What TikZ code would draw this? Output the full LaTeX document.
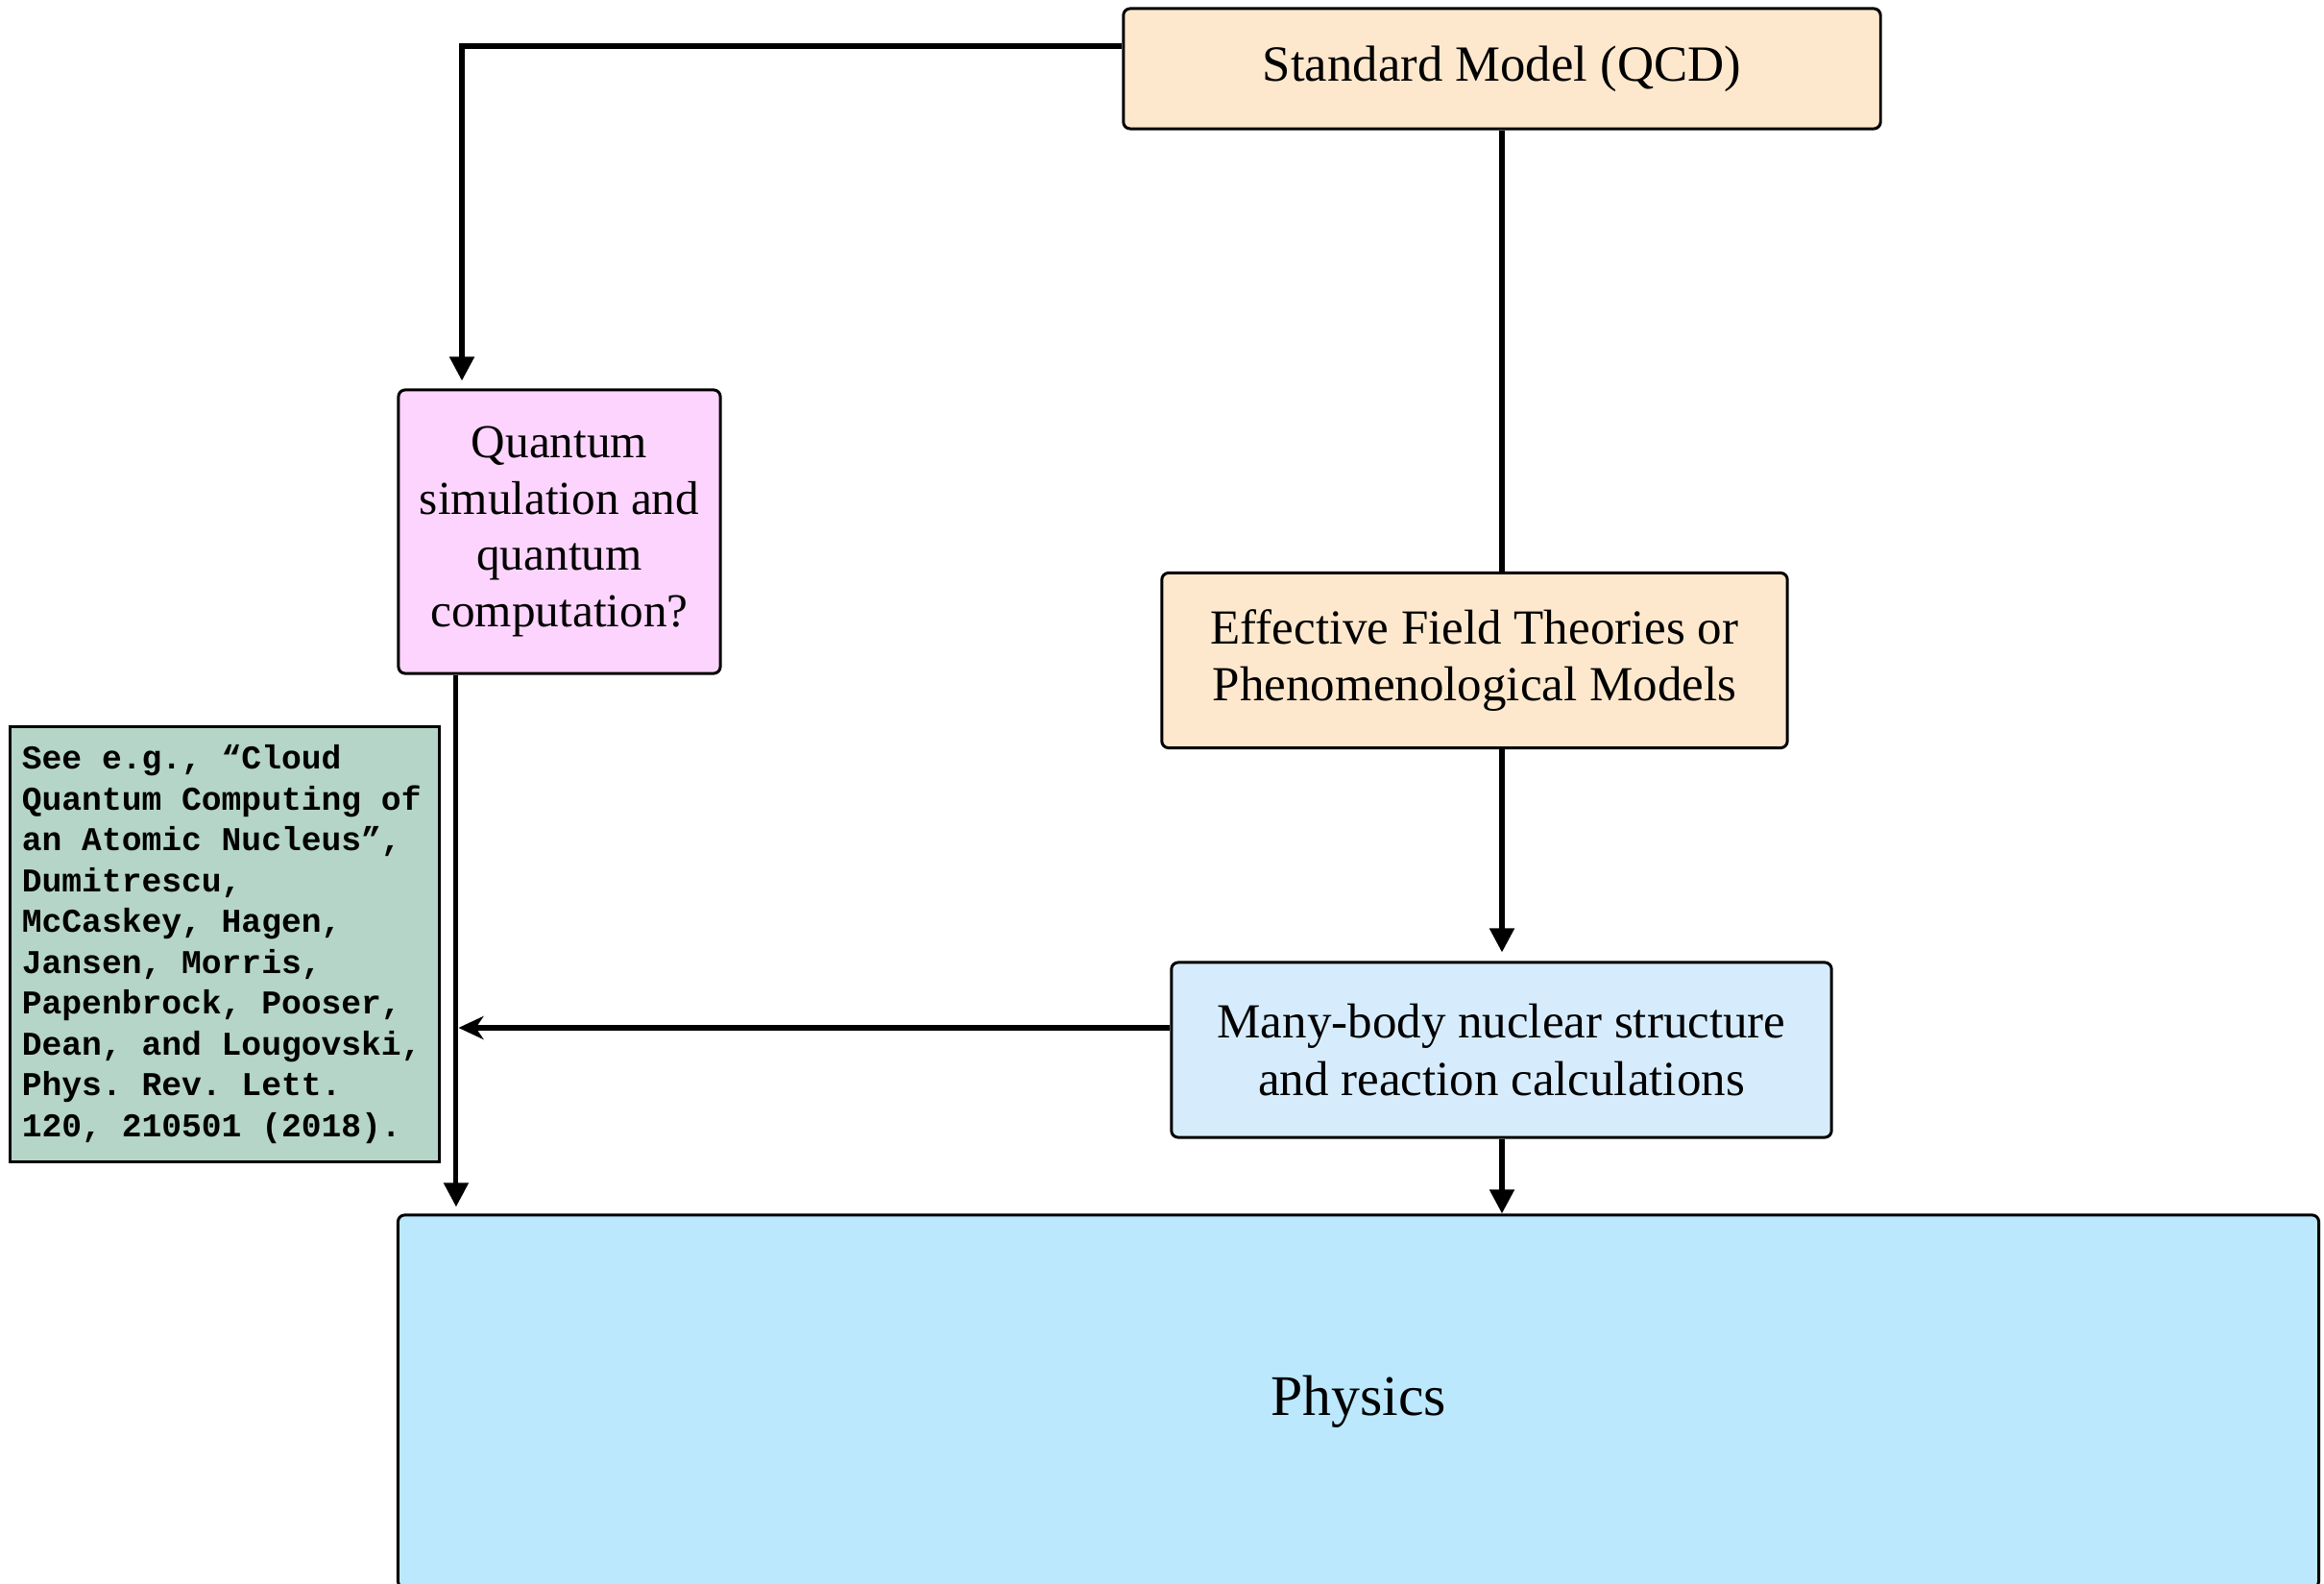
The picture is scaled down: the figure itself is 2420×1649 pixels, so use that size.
\documentclass[tikz,border=0pt]{standalone}
\usepackage{fontspec}
\setmainfont{Liberation Serif}
\newfontfamily\refmono{Liberation Mono}
\newcommand\reffont{\refmono\bfseries\fontsize{9.85}{12.1}\selectfont}
\newcommand\ms{\kern0.6em\relax}
\usetikzlibrary{arrows.meta}
\definecolor{peach}{HTML}{FEE8CD}
\definecolor{pinkq}{HTML}{FDD4FD}
\definecolor{mbblue}{HTML}{D6ECFC}
\definecolor{physblue}{HTML}{BBE8FD}
\definecolor{refgreen}{HTML}{B5D5C8}
\tikzset{
  boxstyle/.style={draw=black, line width=0.85pt, rounded corners=0.07cm, align=center, inner sep=0pt},
  conn/.style={line width=1.45pt},
  tarr/.style={conn, -{Triangle[length=0.25cm,width=0.25cm]}},
  sarr/.style={conn, -{Stealth[length=0.26cm,width=0.24cm,inset=0.08cm]}},
}
\begin{document}
\begin{tikzpicture}[x=0.01cm,y=-0.01cm]
\useasboundingbox (0,0) rectangle (2420,1649);
% nodes
\node[boxstyle, fill=peach, minimum width=7.88cm, minimum height=1.25cm,
      font=\fontsize{15}{18}\selectfont] (sm) at (1564,71.5) {Standard Model (QCD)};
\node[boxstyle, fill=pinkq, minimum width=3.35cm, minimum height=2.95cm,
      font=\fontsize{14}{16.7}\selectfont] (qc) at (582.5,553.5)
      {Quantum\\ simulation and\\ quantum\\ computation?};
\node[boxstyle, fill=peach, minimum width=6.51cm, minimum height=1.82cm,
      font=\fontsize{14.5}{17}\selectfont] (eft) at (1535.5,687.5)
      {Effective Field Theories or\\ Phenomenological Models};
\node[boxstyle, fill=mbblue, minimum width=6.87cm, minimum height=1.82cm,
      font=\fontsize{14.5}{17}\selectfont] (mb) at (1563.5,1093)
      {Many-body nuclear structure\\ and reaction calculations};
\node[boxstyle, fill=physblue, minimum width=19.99cm, minimum height=3.88cm,
      font=\fontsize{17}{20}\selectfont] (phys) at (1414.5,1459) {Physics};
\node[draw=black, line width=0.85pt, fill=refgreen, minimum width=4.46cm, minimum height=4.52cm,
      text width=4.22cm, inner sep=0.12cm, align=left,
      font=\reffont] (ref) at (234,983)
      {See\ms e.g.,\ms “Cloud\\
       Quantum\ms Computing\ms of\\
       an\ms Atomic\ms Nucleus”,\\
       Dumitrescu,\\
       McCaskey,\ms Hagen,\\
       Jansen,\ms Morris,\\
       Papenbrock,\ms Pooser,\\
       Dean,\ms and\ms Lougovski,\\
       Phys.\ms Rev.\ms Lett.\\
       120,\ms 210501\ms (2018).};
% helper coordinates
\coordinate (qin) at (481,0);
\coordinate (qout) at ([xshift=-1.075cm]qc.south);
\coordinate (smout) at ([yshift=0.235cm]sm.west);
\coordinate (mbout) at ([yshift=0.23cm]mb.west);
% connectors
\draw[tarr, shorten >=0.08cm] (smout) -| (qin |- qc.north);
\draw[tarr, shorten >=0.07cm] (qout) -- (qout |- phys.north);
\draw[conn] (sm.south) -- (sm.south |- eft.north);
\draw[tarr, shorten >=0.09cm] (sm.south |- eft.south) -- (sm.south |- mb.north);
\draw[tarr] (sm.south |- mb.south) -- (sm.south |- phys.north);
\draw[sarr] (mbout) -- ([xshift=0.025cm]qout |- mbout);
\end{tikzpicture}
\end{document}
